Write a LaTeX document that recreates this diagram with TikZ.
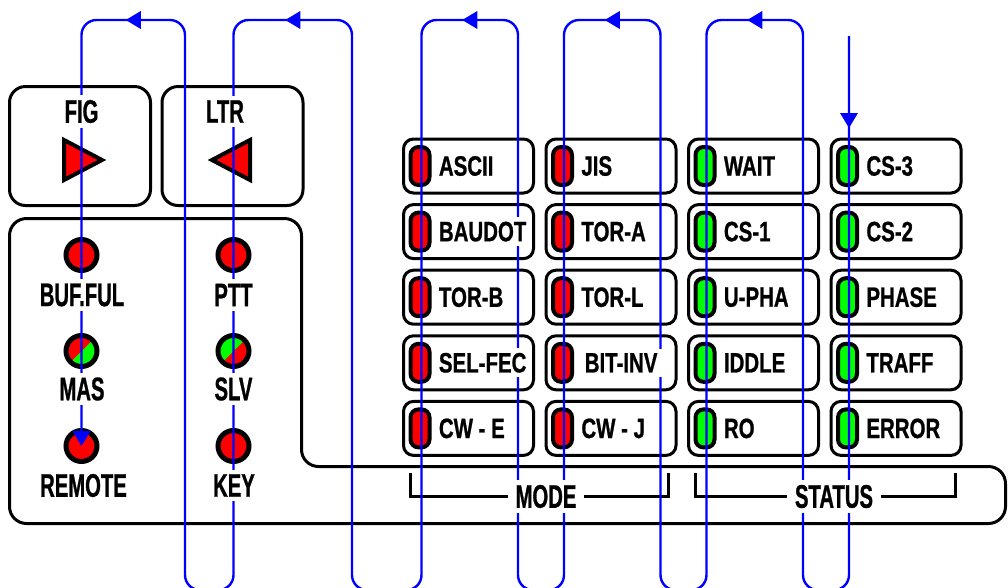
\documentclass[tikz,border=0pt]{standalone}
\usepackage{fontspec}
\usetikzlibrary{arrows.meta}
\newfontfamily\btnfont[FakeStretch=0.73,FakeBold=0.8]{Liberation Sans}
\newfontfamily\capfont[FakeStretch=0.62,FakeBold=0.8]{Liberation Sans}
\definecolor{ledred}{RGB}{255,0,0}
\definecolor{ledgreen}{RGB}{0,255,0}
\definecolor{flowblue}{RGB}{0,0,255}

\tikzset{
  panel/.style={draw, line width=2.25pt, rounded corners=12pt, minimum width=105.75pt, minimum height=89.25pt, inner sep=0pt},
  tri/.style={draw, fill=ledred, line width=3pt, line join=miter},
  lamp/.style={draw, circle, line width=3.75pt, minimum size=23.25pt, inner sep=0pt, fill=ledred},
  halfred/.style={fill=ledgreen, path picture={\fill[ledred] (path picture bounding box.south west) -- (path picture bounding box.north west) -- (path picture bounding box.north east) -- cycle;}},
  halfgreen/.style={fill=ledred, path picture={\fill[ledgreen] (path picture bounding box.south west) -- (path picture bounding box.north west) -- (path picture bounding box.north east) -- cycle;}},
  button/.style={draw, line width=2.25pt, rounded corners=7.5pt, minimum width=97.5pt, minimum height=40.5pt, inner sep=0pt},
  pill/.style={draw, line width=3pt, rounded corners=6pt, minimum width=14.25pt, minimum height=28.5pt, inner sep=0pt},
  modeled/.style={pill, fill=ledred},
  statusled/.style={pill, fill=ledgreen},
  btntext/.style={fill=white, inner xsep=1pt, inner ysep=3.5pt, anchor=west, font=\btnfont\bfseries\fontsize{21}{21}\selectfont},
  captext/.style={fill=white, inner xsep=1pt, inner ysep=3.5pt, font=\capfont\bfseries\fontsize{24.5}{24.5}\selectfont},
  bracket/.style={line width=2.25pt},
  flow/.style={draw=flowblue, line width=1.8pt, rounded corners=11.25pt},
  flowtip/.style={color=flowblue, line width=1.8pt, -{Triangle[length=11.25pt,width=13pt]}}
}

\begin{document}
\begin{tikzpicture}[x=0.75pt,y=0.75pt,yscale=-1,xscale=1]
\useasboundingbox (0,0) rectangle (1008,587);
\clip (0,0) rectangle (1008,587);

%Shape: Frame
\draw [line width=2.25pt, rounded corners=12.75pt] (9.5,218.5) -- (301.5,218.5) -- (301.5,466.5) -- (1005.5,466.5) -- (1005.5,523.5) -- (9.5,523.5) -- cycle ;

%Shape: Rounded Rect
\node [panel] (fig box) at (80,146) {};
\node [panel] (ltr box) at (232.5,146) {};
%Shape: Triangle
\draw [tri] (64,140) -- (102,160) -- (64,180) -- cycle ;
\draw [tri] (250,140) -- (212,160) -- (250,180) -- cycle ;

%Shape: Circle
\node [lamp] (buf lamp) at (81.5,255) {};
\node [lamp, halfred] (mas lamp) at (81.5,351) {};
\node [lamp] (remote lamp) at (81.5,446) {};
\node [lamp] (ptt lamp) at (233.5,255) {};
\node [lamp, halfgreen] (slv lamp) at (233.5,351) {};
\node [lamp] (key lamp) at (233.5,446) {};

%Shape: Buttons MODE
\node [button] (ascii) at (468.5,166) {};   \node [modeled] (ascii led) at ([xshift=13.5pt]ascii.west) {};
\node [button] (baudot) at (468.5,231.6) {}; \node [modeled] (baudot led) at ([xshift=13.5pt]baudot.west) {};
\node [button] (torb) at (468.5,297.2) {};   \node [modeled] (torb led) at ([xshift=13.5pt]torb.west) {};
\node [button] (selfec) at (468.5,362.8) {}; \node [modeled] (selfec led) at ([xshift=13.5pt]selfec.west) {};
\node [button] (cwe) at (468.5,428.4) {};    \node [modeled] (cwe led) at ([xshift=13.5pt]cwe.west) {};
\node [button] (jis) at (611,166) {};        \node [modeled] (jis led) at ([xshift=13.5pt]jis.west) {};
\node [button] (tora) at (611,231.6) {};     \node [modeled] (tora led) at ([xshift=13.5pt]tora.west) {};
\node [button] (torl) at (611,297.2) {};     \node [modeled] (torl led) at ([xshift=13.5pt]torl.west) {};
\node [button] (bitinv) at (611,362.8) {};   \node [modeled] (bitinv led) at ([xshift=13.5pt]bitinv.west) {};
\node [button] (cwj) at (611,428.4) {};      \node [modeled] (cwj led) at ([xshift=13.5pt]cwj.west) {};
%Shape: Buttons STATUS
\node [button] (wait) at (753.5,166) {};     \node [statusled] (wait led) at ([xshift=13.5pt]wait.west) {};
\node [button] (csone) at (753.5,231.6) {};  \node [statusled] (csone led) at ([xshift=13.5pt]csone.west) {};
\node [button] (upha) at (753.5,297.2) {};   \node [statusled] (upha led) at ([xshift=13.5pt]upha.west) {};
\node [button] (iddle) at (753.5,362.8) {};  \node [statusled] (iddle led) at ([xshift=13.5pt]iddle.west) {};
\node [button] (ro) at (753.5,428.4) {};     \node [statusled] (ro led) at ([xshift=13.5pt]ro.west) {};
\node [button] (csthree) at (896,166) {};    \node [statusled] (csthree led) at ([xshift=13.5pt]csthree.west) {};
\node [button] (cstwo) at (896,231.6) {};    \node [statusled] (cstwo led) at ([xshift=13.5pt]cstwo.west) {};
\node [button] (phase) at (896,297.2) {};    \node [statusled] (phase led) at ([xshift=13.5pt]phase.west) {};
\node [button] (traff) at (896,362.8) {};    \node [statusled] (traff led) at ([xshift=13.5pt]traff.west) {};
\node [button] (error) at (896,428.4) {};    \node [statusled] (error led) at ([xshift=13.5pt]error.west) {};

%Straight Lines: brackets
\draw [bracket] (410,473) |- (668,496.5) -- (668,473) ;
\draw [bracket] (695,473) |- (955,496.5) -- (955,473) ;

%Curve Lines: scan path
\coordinate (feed) at (849,36) ;
\draw [flow, -{Triangle[length=11.25pt,width=13pt]}] (feed) -- (849,590) -- (803,590) -- (803,20) -- (706.5,20) -- (706.5,590) -- (660.5,590) -- (660.5,20) -- (564,20) -- (564,590) -- (518,590) -- (518,20) -- (421.5,20) -- (421.5,590) -- (352,590) -- (352,20) -- (233.5,20) -- (233.5,590) -- (185,590) -- (185,20) -- (81.5,20) -- (remote lamp.center) ;
\draw [flowtip] (849,113) -- (849,128) ;
\draw [flowtip] (140.75,20) -- (125.75,20) ;
\draw [flowtip] (300.25,20) -- (285.25,20) ;
\draw [flowtip] (477.25,20) -- (462.25,20) ;
\draw [flowtip] (619.75,20) -- (604.75,20) ;
\draw [flowtip] (762.25,20) -- (747.25,20) ;

% Text Node
\node [captext] (fig label) at (81.5,111.5) {FIG};
\node [captext] (ltr label) at (225,111.5) {LTR};
\node [captext] (buf label) at (82,295) {BUF.FUL};
\node [captext] (mas label) at (82,389) {MAS};
\node [captext] (remote label) at (83.5,485.5) {REMOTE};
\node [captext] (ptt label) at (233.5,295) {PTT};
\node [captext] (slv label) at (233.5,389) {SLV};
\node [captext] (key label) at (234,485.5) {KEY};
\node [captext, inner xsep=6pt] (mode label) at (546,496.5) {MODE};
\node [captext, inner xsep=6pt] (status label) at (834,496.5) {STATUS};
% Text Node: buttons
\node [btntext] (ascii text) at ([xshift=26.5pt]ascii.west) {ASCII};
\node [btntext] (baudot text) at ([xshift=26.5pt]baudot.west) {BAUDOT};
\node [btntext] (torb text) at ([xshift=26.5pt]torb.west) {TOR-B};
\node [btntext] (selfec text) at ([xshift=26.5pt]selfec.west) {SEL-FEC};
\node [btntext] (cwe text) at ([xshift=26.5pt]cwe.west) {CW - E};
\node [btntext] (jis text) at ([xshift=26.5pt]jis.west) {JIS};
\node [btntext] (tora text) at ([xshift=26.5pt]tora.west) {TOR-A};
\node [btntext] (torl text) at ([xshift=26.5pt]torl.west) {TOR-L};
\node [btntext, inner xsep=3.5pt] (bitinv text) at ([xshift=26.5pt]bitinv.west) {BIT-INV};
\node [btntext] (cwj text) at ([xshift=26.5pt]cwj.west) {CW - J};
\node [btntext] (wait text) at ([xshift=26.5pt]wait.west) {WAIT};
\node [btntext] (csone text) at ([xshift=26.5pt]csone.west) {CS-1};
\node [btntext] (upha text) at ([xshift=26.5pt]upha.west) {U-PHA};
\node [btntext] (iddle text) at ([xshift=26.5pt]iddle.west) {IDDLE};
\node [btntext] (ro text) at ([xshift=26.5pt]ro.west) {RO};
\node [btntext] (csthree text) at ([xshift=26.5pt]csthree.west) {CS-3};
\node [btntext] (cstwo text) at ([xshift=26.5pt]cstwo.west) {CS-2};
\node [btntext] (phase text) at ([xshift=26.5pt]phase.west) {PHASE};
\node [btntext] (traff text) at ([xshift=26.5pt]traff.west) {TRAFF};
\node [btntext] (error text) at ([xshift=26.5pt]error.west) {ERROR};
\end{tikzpicture}
\end{document}
